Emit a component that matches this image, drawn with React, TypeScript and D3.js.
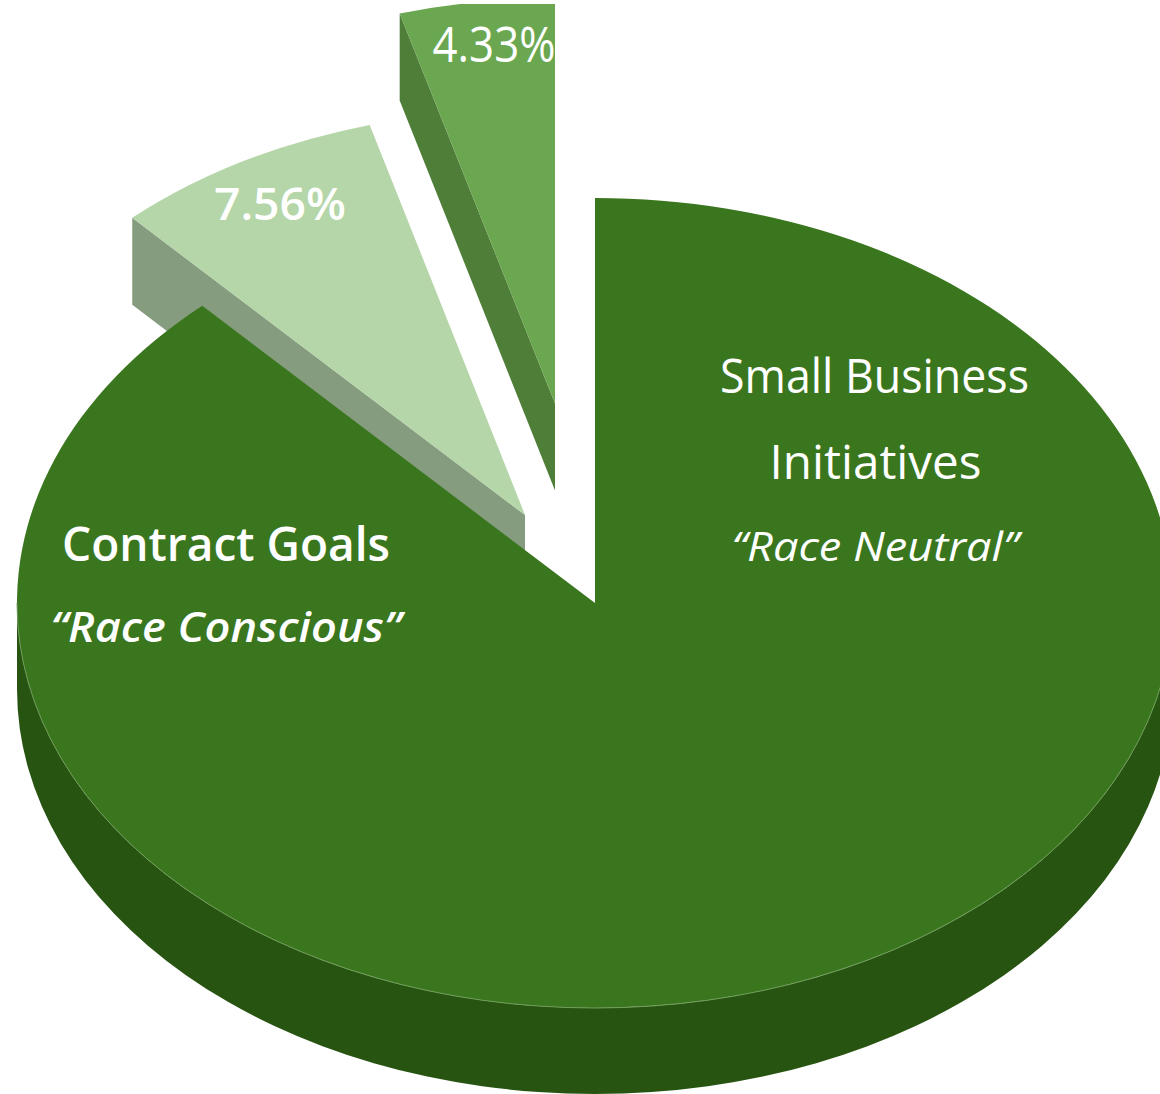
import React from "react";
import * as d3 from "d3";

// Share of contracting by programme, in percent.
const sliceNames = ["Small Business Initiatives", "Contract Goals", "Other"];
const sliceValues = [88.11, 7.56, 4.33];
const topColors = ["#3a761e", "#b5d6a8", "#6aa750"];
const wallColors = ["#285412", "#859c7e", "#4e7e38"];

const WIDTH = 1160;
const HEIGHT = 1094;
const RX = 578;
const RY = 405;
const DEPTH = 86;
const CUT_DEPTH = 87;

// Apex of each wedge on the page; the two small wedges are pulled out of the pie.
const apexes = [
  { x: 595, y: 603 },
  { x: 525, y: 515 },
  { x: 555, y: 403.5 },
];

const arcs = d3.pie<number>().sort(null)(sliceValues);
const face = d3.arc<d3.PieArcDatum<number>>().innerRadius(0).outerRadius(RX);

// Point on the tilted rim of a wedge at a clockwise angle from twelve o'clock.
const rim = (apex: { x: number; y: number }, angle: number): [number, number] => [
  apex.x + RX * Math.sin(angle),
  apex.y - RY * Math.cos(angle),
];

// Visible straight cut of a pulled-out wedge, extruded downwards.
function cutWall(i: number): string {
  const apex = apexes[i];
  const [x, y] = rim(apex, arcs[i].startAngle);
  const p = d3.path();
  p.moveTo(apex.x, apex.y);
  p.lineTo(x, y);
  p.lineTo(x, y + CUT_DEPTH);
  p.lineTo(apex.x, apex.y + CUT_DEPTH);
  p.closePath();
  return p.toString();
}

// Front half of the large wedge's outer wall.
function frontWall(): string {
  const { x, y } = apexes[0];
  return `M${x + RX},${y}A${RX},${RY} 0 0 1 ${x - RX},${y}V${y + DEPTH}A${RX},${RY} 0 0 0 ${x + RX},${y + DEPTH}Z`;
}

function frontRim(): string {
  const { x, y } = apexes[0];
  return `M${x + RX},${y}A${RX},${RY} 0 0 1 ${x - RX},${y}`;
}

const textStyle: React.CSSProperties = { fontFamily: "'Open Sans', Lato, sans-serif", fill: "#ffffff" };
const fit = { textAnchor: "middle", lengthAdjust: "spacingAndGlyphs" } as const;

export default function App() {
  return (
    <svg
      width={WIDTH}
      height={HEIGHT}
      viewBox={`0 0 ${WIDTH} ${HEIGHT}`}
      style={{ position: "absolute", left: 0, top: 0, background: "#ffffff" }}
    >
      <defs>
        <clipPath id="page-top">
          <rect x={0} y={4} width={WIDTH} height={HEIGHT} />
        </clipPath>
      </defs>
      <g clipPath="url(#page-top)">
        <path d={cutWall(2)} fill={wallColors[2]} />
        <g transform={`translate(${apexes[2].x},${apexes[2].y}) scale(1,${RY / RX})`}>
          <path d={face(arcs[2]) ?? ""} fill={topColors[2]} />
        </g>
        <path d={cutWall(1)} fill={wallColors[1]} />
        <g transform={`translate(${apexes[1].x},${apexes[1].y}) scale(1,${RY / RX})`}>
          <path d={face(arcs[1]) ?? ""} fill={topColors[1]} />
        </g>
        <path d={frontWall()} fill={wallColors[0]} />
        <g transform={`translate(${apexes[0].x},${apexes[0].y}) scale(1,${RY / RX})`}>
          <path d={face(arcs[0]) ?? ""} fill={topColors[0]} />
        </g>
        <path d={frontRim()} fill="none" stroke="#6f9c5a" strokeWidth={1} />
      </g>

      <text x={874.5} y={393} fontSize={47} textLength={309} {...fit} style={textStyle}>Small Business</text>
      <text x={875.5} y={479} fontSize={47} textLength={212} {...fit} style={textStyle}>Initiatives</text>
      <text x={875} y={561} fontSize={41} fontStyle="italic" textLength={287} {...fit} style={textStyle}>“Race Neutral”</text>
      <text x={226} y={561} fontSize={47} fontWeight={600} textLength={328} {...fit} style={textStyle}>Contract Goals</text>
      <text x={226} y={642} fontSize={41} fontWeight={600} fontStyle="italic" textLength={351} {...fit} style={textStyle}>“Race Conscious”</text>
      <text x={280} y={220} fontSize={46} fontWeight={600} textLength={132} {...fit} style={textStyle}>{`${sliceValues[1].toFixed(2)}%`}</text>
      <text x={494} y={62} fontSize={49} textLength={123} {...fit} style={textStyle}>{`${sliceValues[2].toFixed(2)}%`}</text>
    </svg>
  );
}
